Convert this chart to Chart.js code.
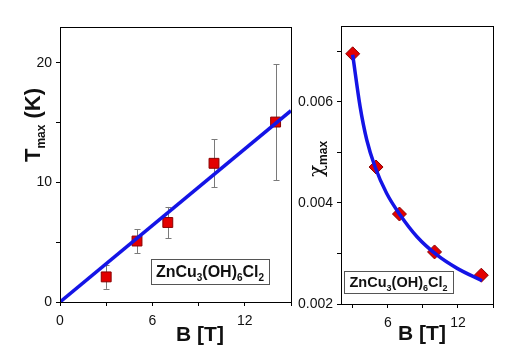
<!DOCTYPE html>
<html><head><meta charset="utf-8">
<script src="https://cdn.jsdelivr.net/npm/chart.js@4/dist/chart.umd.min.js"></script>
<style>
html,body{margin:0;padding:0;background:#fff;}
#wrap{position:relative;width:520px;height:353px;overflow:hidden;background:#fff;}
canvas{position:absolute;top:0;}
#c1{left:0;}
#c2{left:290px;}
</style></head><body>
<div id="wrap">
<canvas id="c1" width="300" height="353"></canvas>
<canvas id="c2" width="230" height="353"></canvas>
</div>
<script>
// ---- data ----
const fieldT = [3, 5, 7, 10, 14];
const tmaxK = [2.1, 5.1, 6.65, 11.6, 15.05];
const tmaxErrLow = [1.1, 4.1, 5.35, 9.6, 10.2];
const tmaxErrHigh = [3.1, 6.1, 7.95, 13.6, 19.9];
const fitLineB = [0, 15];
const fitLineT = [0, 16];

const fieldChi = [3, 5, 7, 10, 14];
const chiMax = [0.00695, 0.00471, 0.00378, 0.00303, 0.00257];
const chiFitB = [3.0, 3.63, 4.2, 4.9, 5.9, 7.06, 8.5, 10.2, 11.9, 14.06];
const chiFitY = [0.00693, 0.00591, 0.00525, 0.00472, 0.00419, 0.00376, 0.00333, 0.00297, 0.00271, 0.00246];

const leftXTicks = [0, 3, 6, 9, 12, 15];
const leftXLabels = ['0', '', '6', '', '12', ''];
const leftYTicks = [0, 5, 10, 15, 20];
const leftYLabels = ['0', '', '10', '', '20'];
const rightXTicks = [3, 6, 9, 12, 15];
const rightXLabels = ['', '6', '', '12', ''];
const rightYTicks = [0.002, 0.003, 0.004, 0.005, 0.006, 0.007];
const rightYLabels = ['0.002', '', '0.004', '', '0.006', ''];

const formula = [['ZnCu', 0], ['3', 1], ['(OH)', 0], ['6', 1], ['Cl', 0], ['2', 1]];

// ---- helpers ----
const FONT = '"Liberation Sans", Arial, sans-serif';
function drawRich(ctx, parts, x, y, align) {
  let w = 0;
  parts.forEach(p => { ctx.font = p.font; w += ctx.measureText(p.text).width; });
  let cx = align === 'center' ? x - w / 2 : x;
  ctx.textAlign = 'left';
  ctx.textBaseline = 'alphabetic';
  parts.forEach(p => { ctx.font = p.font; ctx.fillText(p.text, cx, y + (p.dy || 0)); cx += ctx.measureText(p.text).width; });
}
function formulaParts(size, subSize, dy) {
  return formula.map(([t, s]) => ({ text: t, font: 'bold ' + (s ? subSize : size) + 'px ' + FONT, dy: s ? dy : 0 }));
}
function pts(xs, ys) { return xs.map((x, i) => ({ x: x, y: ys[i] })); }

const axisCommon = (ticks, labels, pad) => ({
  type: 'linear',
  afterBuildTicks: s => { s.ticks = ticks.map(v => ({ value: v })); },
  ticks: { callback: (v, i) => labels[i], color: '#111', font: { family: FONT, size: 14 }, padding: pad, maxRotation: 0, autoSkip: false },
  grid: { drawOnChartArea: false, drawTicks: true, tickLength: 4, tickColor: '#000', tickWidth: 1 },
  border: { display: true, color: '#000', width: 1 }
});

const framePlugin = {
  id: 'frame',
  afterDraw(chart) {
    const { ctx, chartArea: a } = chart;
    ctx.save();
    ctx.strokeStyle = '#000'; ctx.lineWidth = 1;
    ctx.strokeRect(Math.round(a.left) + 0.5, Math.round(a.top) + 0.5, Math.round(a.right - a.left), Math.round(a.bottom - a.top));
    ctx.restore();
  }
};

// ---- left chart ----
const errPlugin = {
  id: 'errbars',
  beforeDatasetsDraw(chart) {
    const { ctx, scales: { x, y } } = chart;
    ctx.save();
    ctx.strokeStyle = '#7a7a7a'; ctx.lineWidth = 1;
    fieldT.forEach((b, i) => {
      const px = Math.round(x.getPixelForValue(b)) + 0.5;
      const y1 = y.getPixelForValue(tmaxErrLow[i]);
      const y2 = y.getPixelForValue(tmaxErrHigh[i]);
      ctx.beginPath();
      ctx.moveTo(px, y1); ctx.lineTo(px, y2);
      ctx.moveTo(px - 3, Math.round(y1) + 0.5); ctx.lineTo(px + 3, Math.round(y1) + 0.5);
      ctx.moveTo(px - 3, Math.round(y2) + 0.5); ctx.lineTo(px + 3, Math.round(y2) + 0.5);
      ctx.stroke();
    });
    ctx.restore();
  }
};
const labels1 = {
  id: 'labels1',
  afterDraw(chart) {
    const { ctx, chartArea: a } = chart;
    ctx.save();
    ctx.fillStyle = '#111';
    // x title
    drawRich(ctx, [{ text: 'B [T]', font: 'bold 21px ' + FONT }], a.left + 140, 341, 'center');
    // y title
    ctx.translate(40, 125);
    ctx.rotate(-Math.PI / 2);
    drawRich(ctx, [
      { text: 'T', font: 'bold 22px ' + FONT },
      { text: 'max', font: 'bold 12px ' + FONT, dy: 5 },
      { text: ' (K)', font: 'bold 22px ' + FONT }
    ], 0, 0, 'center');
    ctx.restore();
    // legend box
    ctx.save();
    const bx = a.left + 91, by = a.top + 232, bw = 118, bh = 25;
    ctx.fillStyle = '#fff';
    ctx.fillRect(bx, by, bw, bh);
    ctx.strokeStyle = '#555'; ctx.lineWidth = 1;
    ctx.strokeRect(bx + 0.5, by + 0.5, bw, bh);
    ctx.fillStyle = '#111';
    drawRich(ctx, formulaParts(16, 10, 4), bx + bw / 2, by + 18, 'center');
    ctx.restore();
  }
};

new Chart(document.getElementById('c1'), {
  data: {
    datasets: [
      { type: 'line', data: pts(fitLineB, fitLineT), borderColor: '#1414e6', borderWidth: 3.5, pointRadius: 0, order: 0, fill: false },
      { type: 'scatter', data: pts(fieldT, tmaxK), pointStyle: 'rect', pointRadius: 7, pointHoverRadius: 7,
        backgroundColor: '#e30000', borderColor: '#8a0000', borderWidth: 1, order: 1 }
    ]
  },
  options: {
    responsive: false, animation: false, devicePixelRatio: 1,
    layout: { padding: { top: 27, right: 9, left: 0, bottom: 0 } },
    plugins: { legend: { display: false }, tooltip: { enabled: false } },
    scales: {
      x: Object.assign(axisCommon(leftXTicks, leftXLabels, 7), { min: 0, max: 15, afterFit: s => { s.height = 51; } }),
      y: Object.assign(axisCommon(leftYTicks, leftYLabels, 4), { min: 0, max: 23, afterFit: s => { s.width = 60; } })
    }
  },
  plugins: [errPlugin, framePlugin, labels1]
});

// ---- right chart ----
const labels2 = {
  id: 'labels2',
  afterDraw(chart) {
    const { ctx, chartArea: a } = chart;
    ctx.save();
    ctx.fillStyle = '#111';
    drawRich(ctx, [{ text: 'B [T]', font: 'bold 21px ' + FONT }], 132, 340, 'center');
    ctx.translate(33, 159);
    ctx.rotate(-Math.PI / 2);
    drawRich(ctx, [
      { text: 'χ', font: '20px "DejaVu Serif", serif' },
      { text: 'max', font: 'bold 12px ' + FONT, dy: 4 }
    ], 0, 0, 'center');
    ctx.restore();
    ctx.save();
    const bx = a.left + 3, by = a.top + 245, bw = 109, bh = 22;
    ctx.fillStyle = '#fff';
    ctx.fillRect(bx, by, bw, bh);
    ctx.strokeStyle = '#555'; ctx.lineWidth = 1;
    ctx.strokeRect(bx + 0.5, by + 0.5, bw, bh);
    ctx.fillStyle = '#111';
    drawRich(ctx, formulaParts(14.5, 9, 4), bx + bw / 2, by + 16, 'center');
    ctx.restore();
  }
};

new Chart(document.getElementById('c2'), {
  data: {
    datasets: [
      { type: 'line', data: pts(chiFitB, chiFitY), borderColor: '#1414e6', borderWidth: 3.5, pointRadius: 0,
        cubicInterpolationMode: 'monotone', order: 0, fill: false },
      { type: 'scatter', data: pts(fieldChi, chiMax), pointStyle: 'rectRot', pointRadius: 7, pointHoverRadius: 7,
        backgroundColor: '#e30000', borderColor: '#8a0000', borderWidth: 1, order: 1 }
    ]
  },
  options: {
    responsive: false, animation: false, devicePixelRatio: 1,
    layout: { padding: { top: 26, right: 27, left: 0, bottom: 0 } },
    plugins: { legend: { display: false }, tooltip: { enabled: false } },
    scales: {
      x: Object.assign(axisCommon(rightXTicks, rightXLabels, 7), { min: 2, max: 15, afterFit: s => { s.height = 49; } }),
      y: Object.assign(axisCommon(rightYTicks, rightYLabels, 4), { min: 0.002, max: 0.0075, afterFit: s => { s.width = 51; } })
    }
  },
  plugins: [framePlugin, labels2]
});
</script>
</body></html>
